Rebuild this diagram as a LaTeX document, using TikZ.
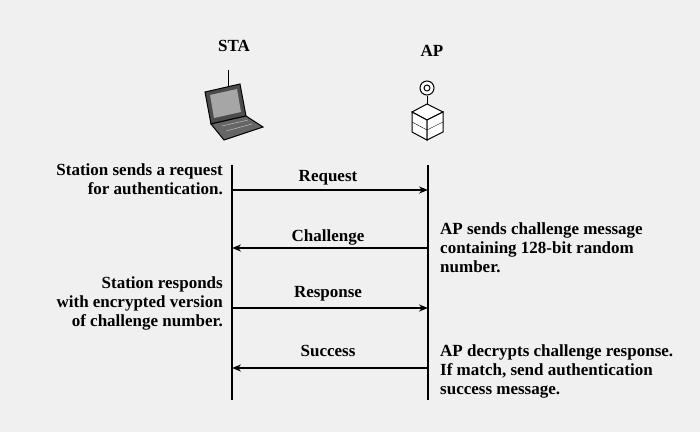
\documentclass[tikz,border=0pt]{standalone}
\usepackage{fontspec}
\setmainfont{Liberation Serif}
\usetikzlibrary{arrows.meta}
\begin{document}
\begin{tikzpicture}[x=1pt,y=-1pt,
  lbl/.style={font=\bfseries\fontsize{17}{19}\selectfont,inner sep=0},
  life/.style={line width=2pt},
  msg/.style={line width=1.6pt,-{Stealth[length=9pt,width=7pt]}}]
\fill[black!6] (0,0) rectangle (700,432);
\useasboundingbox (0,0) rectangle (700,432);
\node[lbl] (sta) at (234,46) {STA};
\node[lbl] (ap) at (432,51) {AP};
% laptop icon
\draw[line width=1pt] (228,70) -- (228,86);
\draw[fill=black!70,line width=1pt] (205,92) -- (240,84) -- (246,116) -- (211,124) -- cycle;
\fill[black!35] (210,95) -- (237,89) -- (241,112) -- (214,118) -- cycle;
\draw[fill=black!60,line width=1pt] (211,124) -- (246,116) -- (263,127) -- (224,140) -- cycle;
\draw[black!20] (222,126) -- (248,120) (226,131) -- (252,124);
% AP icon
\draw[line width=1pt] (427,96) -- (427,106);
\draw[line width=1pt,fill=white] (427,88) circle (7);
\draw[line width=1pt] (427,88) circle (3);
\draw[line width=1pt,fill=white] (412,112) -- (427,104) -- (443,112) -- (427,120) -- cycle;
\draw[line width=1pt,fill=white] (412,112) -- (427,120) -- (427,140) -- (412,132) -- cycle;
\draw[line width=1pt,fill=white] (443,112) -- (427,120) -- (427,140) -- (443,132) -- cycle;
\draw (412,122) -- (427,130) -- (443,122);
% lifelines
\coordinate (s0) at (232,165); \coordinate (s1) at (232,400);
\coordinate (a0) at (428,165); \coordinate (a1) at (428,400);
\draw[life] (s0) -- (s1);
\draw[life] (a0) -- (a1);
\coordinate (r1) at (232,190); \coordinate (r2) at (428,190);
\coordinate (c1) at (428,248); \coordinate (c2) at (232,248);
\coordinate (p1) at (232,308); \coordinate (p2) at (428,308);
\coordinate (u1) at (428,368); \coordinate (u2) at (232,368);
\draw[msg] (r1) -- (r2);
\draw[msg] (c1) -- (c2);
\draw[msg] (p1) -- (p2);
\draw[msg] (u1) -- (u2);
\node[lbl] (lr) at (328,178) {Request};
\node[lbl] (lc) at (328,237) {Challenge};
\node[lbl] (lp) at (328,294) {Response};
\node[lbl] (lu) at (328,351) {Success};
\node[lbl,anchor=east,align=right] (t1) at (223,179) {Station sends a request\\for authentication.};
\node[lbl,anchor=east,align=right] (t2) at (223,303) {Station responds\\with encrypted version\\of challenge number.};
\node[lbl,anchor=west,align=left] (t3) at (440,248) {AP sends challenge message\\containing 128-bit random\\number.};
\node[lbl,anchor=west,align=left] (t4) at (440,371) {AP decrypts challenge response.\\If match, send authentication\\success message.};
\end{tikzpicture}
\end{document}
